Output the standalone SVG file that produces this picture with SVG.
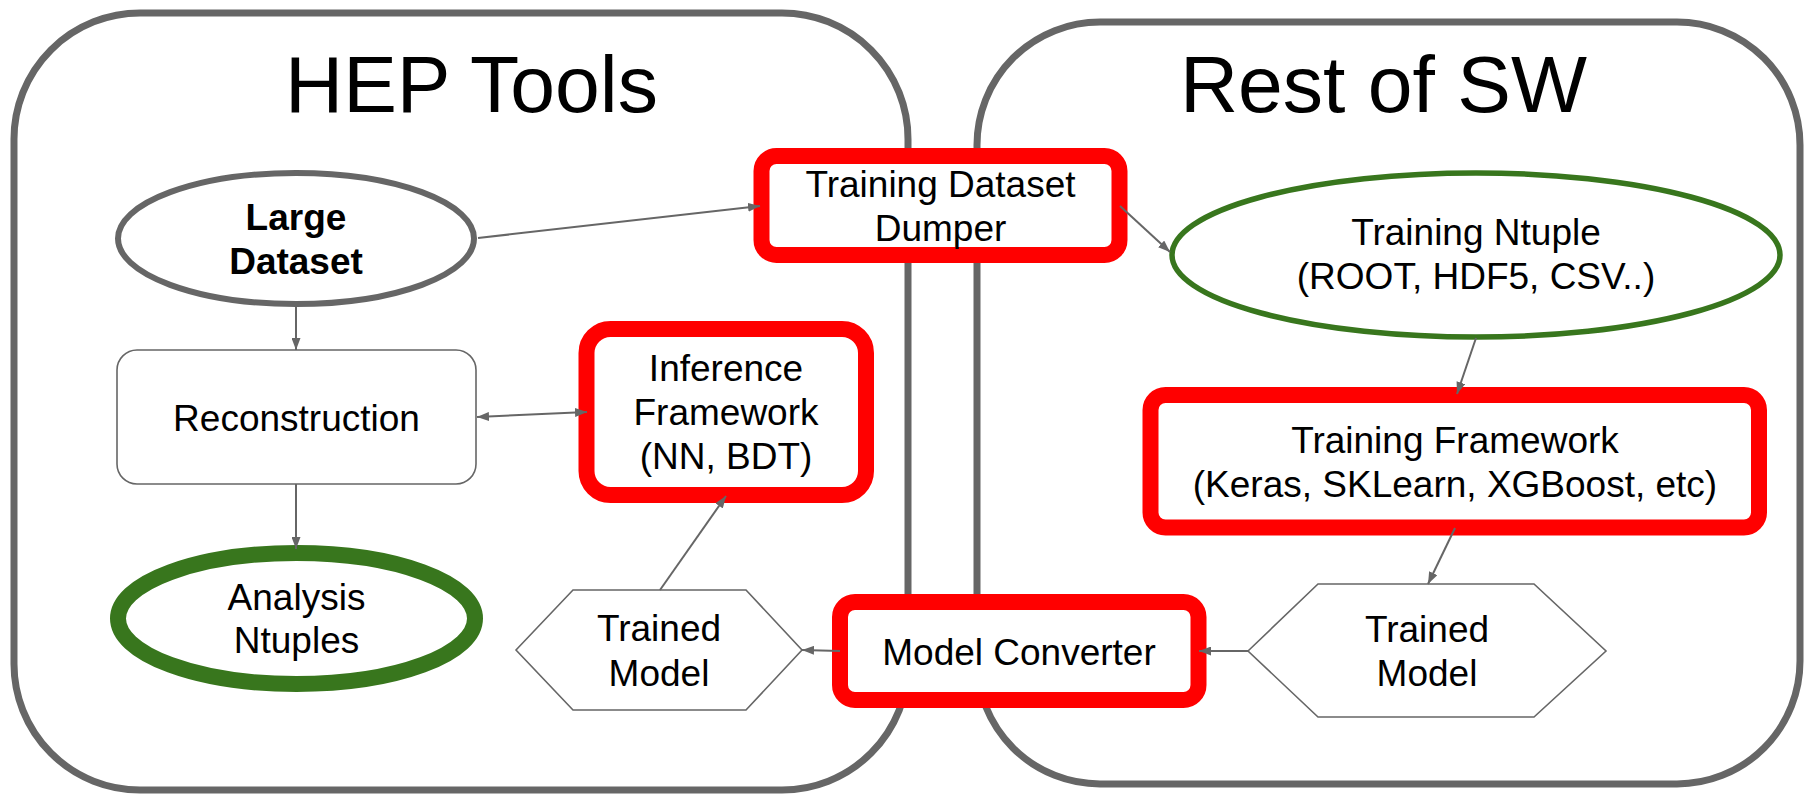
<svg xmlns="http://www.w3.org/2000/svg" width="1804" height="795" viewBox="0 0 1804 795">
<defs>
<marker id="ah" markerUnits="userSpaceOnUse" markerWidth="12" markerHeight="9" refX="12" refY="4.5" orient="auto-start-reverse" viewBox="0 0 12 9">
<path d="M0,0 L12,4.5 L0,9 z" fill="#666666"/>
</marker>
<style>
.outer{fill:none;stroke:#666666;stroke-width:7}
.red{fill:#ffffff;stroke:#ff0000;stroke-width:16}
.thin{fill:#ffffff;stroke:#666666;stroke-width:1.6}
.t{font-family:"Liberation Sans",Arial,sans-serif;font-size:37px;fill:#000000;text-anchor:middle}
.b{font-weight:bold}
.title{font-family:"Liberation Sans",Arial,sans-serif;font-size:80.5px;fill:#000000;text-anchor:middle}
.c{fill:none;stroke:#666666;stroke-width:2}
</style>
</defs>
<rect width="1804" height="795" fill="#ffffff"/>
<g id="hep-tools">
<rect class="outer" x="14" y="13" width="894" height="777" rx="126" ry="126"/>
<text class="title" x="471.5" y="112">HEP Tools</text>
</g>
<g id="rest-of-sw">
<rect class="outer" x="977" y="22" width="823" height="762" rx="123" ry="123"/>
<text class="title" x="1383.5" y="112">Rest of SW</text>
</g>
<g id="large-dataset">
<ellipse cx="296" cy="238.5" rx="178" ry="65.5" fill="#ffffff" stroke="#666666" stroke-width="6"/>
<text class="t b" x="296" y="230">Large</text>
<text class="t b" x="296" y="274">Dataset</text>
</g>
<g id="reconstruction">
<rect class="thin" x="117" y="350" width="359" height="134" rx="20" ry="20"/>
<text class="t" x="296.5" y="431">Reconstruction</text>
</g>
<g id="analysis-ntuples">
<ellipse cx="296.5" cy="618.5" rx="178.5" ry="65.5" fill="#ffffff" stroke="#38761d" stroke-width="16"/>
<text class="t" x="296.5" y="610">Analysis</text>
<text class="t" x="296.5" y="653">Ntuples</text>
</g>
<g id="training-dataset-dumper">
<rect class="red" x="761.5" y="156" width="358" height="99" rx="15" ry="15"/>
<text class="t" x="940.5" y="197">Training Dataset</text>
<text class="t" x="940.5" y="241">Dumper</text>
</g>
<g id="inference-framework">
<rect class="red" x="586.5" y="329" width="279.5" height="166" rx="24" ry="24"/>
<text class="t" x="726" y="381">Inference</text>
<text class="t" x="726" y="425">Framework</text>
<text class="t" x="726" y="469">(NN, BDT)</text>
</g>
<g id="trained-model-left">
<polygon class="thin" points="516,650 573,590 746,590 802,650 746,710 573,710"/>
<text class="t" x="659" y="641">Trained</text>
<text class="t" x="659" y="686">Model</text>
</g>
<g id="model-converter">
<rect class="red" x="840" y="602" width="358.5" height="98" rx="15" ry="15"/>
<text class="t" x="1019" y="665">Model Converter</text>
</g>
<g id="training-ntuple">
<ellipse cx="1476" cy="255" rx="304" ry="82" fill="#ffffff" stroke="#38761d" stroke-width="5.5"/>
<text class="t" x="1476" y="245">Training Ntuple</text>
<text class="t" x="1476" y="289">(ROOT, HDF5, CSV..)</text>
</g>
<g id="training-framework">
<rect class="red" x="1150.5" y="395" width="608.5" height="132.5" rx="15" ry="15"/>
<text class="t" x="1455" y="453">Training Framework</text>
<text class="t" x="1455" y="497">(Keras, SKLearn, XGBoost, etc)</text>
</g>
<g id="trained-model-right">
<polygon class="thin" points="1248,651 1318,584 1534,584 1606,651 1534,717 1318,717"/>
<text class="t" x="1427" y="642">Trained</text>
<text class="t" x="1427" y="686">Model</text>
</g>
<g id="connectors">
<path class="c" d="M478,238 L760,206" marker-end="url(#ah)"/>
<path class="c" d="M296,307 L296,350" marker-end="url(#ah)"/>
<path class="c" d="M477,417 L587,412" marker-start="url(#ah)" marker-end="url(#ah)"/>
<path class="c" d="M296,484 L296,549" marker-end="url(#ah)"/>
<path class="c" d="M660,590 L726,496" marker-end="url(#ah)"/>
<path class="c" d="M840,651 L802,650" marker-end="url(#ah)"/>
<path class="c" d="M1248,651 L1199,651" marker-end="url(#ah)"/>
<path class="c" d="M1120,206 L1170,252" marker-end="url(#ah)"/>
<path class="c" d="M1476,338 L1457,394" marker-end="url(#ah)"/>
<path class="c" d="M1455,528 L1428,584" marker-end="url(#ah)"/>
</g>
</svg>
